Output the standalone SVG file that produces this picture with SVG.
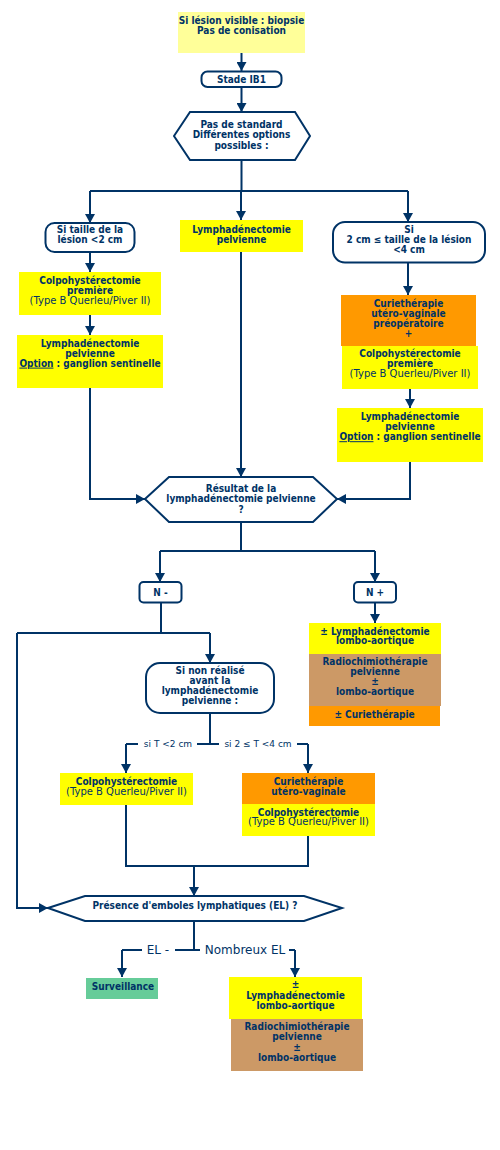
<svg xmlns="http://www.w3.org/2000/svg" width="500" height="1150" viewBox="0 0 500 1150">
<defs>
<style>
.t{font-family:"DejaVu Sans Condensed","DejaVu Sans",sans-serif;font-stretch:condensed;font-size:10px;font-weight:bold;fill:#003366;text-anchor:middle}
.n{font-family:"DejaVu Sans",sans-serif;font-size:10px;fill:#003366;text-anchor:middle}
.s{font-family:"DejaVu Sans",sans-serif;font-size:9px;fill:#003366;text-anchor:middle}
.l{font-family:"DejaVu Sans",sans-serif;font-size:12px;fill:#003366;text-anchor:middle}
.ln{stroke:#003366;stroke-width:2;fill:none}
.sh{fill:#fff;stroke:#003366;stroke-width:2}
.y{fill:#ffff00}
.py{fill:#ffff99}
.o{fill:#ff9900}
.br{fill:#cc9966}
.g{fill:#66cc99}
.u{text-decoration:underline}
</style>
<marker id="a" viewBox="0 0 10 10" markerWidth="10" markerHeight="10" markerUnits="userSpaceOnUse" refX="9" refY="5" orient="auto">
<path d="M0,0 L9,5 L0,10 z" fill="#003366"/>
</marker>
</defs>
<rect width="500" height="1150" fill="#fff"/>

<g id="connectors">
<path class="ln" d="M241.5,53 V71" marker-end="url(#a)"/>
<path class="ln" d="M241.5,87 V112" marker-end="url(#a)"/>
<path class="ln" d="M241.5,160 V191 M90,191 H408"/>
<path class="ln" d="M90,191 V223" marker-end="url(#a)"/>
<path class="ln" d="M241,191 V220" marker-end="url(#a)"/>
<path class="ln" d="M408,191 V222" marker-end="url(#a)"/>
<path class="ln" d="M90,252 V272" marker-end="url(#a)"/>
<path class="ln" d="M90,315 V335" marker-end="url(#a)"/>
<path class="ln" d="M90,388 V499 H145" marker-end="url(#a)"/>
<path class="ln" d="M241,252 V477" marker-end="url(#a)"/>
<path class="ln" d="M408,263 V295" marker-end="url(#a)"/>
<path class="ln" d="M410,389 V408" marker-end="url(#a)"/>
<path class="ln" d="M410,462 V499 H337" marker-end="url(#a)"/>
<path class="ln" d="M241,522 V551 M160,551 H375"/>
<path class="ln" d="M160,551 V582" marker-end="url(#a)"/>
<path class="ln" d="M375,551 V582" marker-end="url(#a)"/>
<path class="ln" d="M161,603 V633 M17,633 H210"/>
<path class="ln" d="M210,633 V663" marker-end="url(#a)"/>
<path class="ln" d="M17,633 V908 H48" marker-end="url(#a)"/>
<path class="ln" d="M375,603 V623" marker-end="url(#a)"/>
<path class="ln" d="M210,713 V744 M138,744 H126 M197,744 H219 M297,744 H308"/>
<path class="ln" d="M126,744 V773" marker-end="url(#a)"/>
<path class="ln" d="M308,744 V773" marker-end="url(#a)"/>
<path class="ln" d="M126,805 V866 H308 V836"/>
<path class="ln" d="M194,866 V896" marker-end="url(#a)"/>
<path class="ln" d="M194,921 V950 M142,950 H122 M175,950 H200 M289,950 H295"/>
<path class="ln" d="M122,950 V977" marker-end="url(#a)"/>
<path class="ln" d="M295,950 V977" marker-end="url(#a)"/>
<text class="s" x="168" y="747">si T &lt;2 cm</text>
<text class="s" x="258" y="747">si 2 ≤ T &lt;4 cm</text>
<text class="l" x="158" y="954">EL -</text>
<text class="l" x="245" y="954">Nombreux EL</text>
</g>

<g id="n1">
<rect class="py" x="178" y="12" width="127" height="41"/>
<text class="t" x="241.5" y="23.6">Si lésion visible : biopsie</text>
<text class="t" x="241.5" y="34">Pas de conisation</text>
</g>

<g id="n2">
<rect class="sh" x="201.5" y="71.5" width="80" height="15.5" rx="6"/>
<text class="t" x="241.5" y="82.6">Stade IB1</text>
</g>

<g id="n3">
<polygon class="sh" points="174,136 190,112 295,112 310,136 295,160 190,160"/>
<text class="t" x="241.5" y="127.6">Pas de standard</text>
<text class="t" x="241.5" y="138">Différentes options</text>
<text class="t" x="241.5" y="148.5">possibles :</text>
</g>

<g id="n4">
<rect class="sh" x="45.5" y="223" width="89" height="29" rx="9"/>
<text class="t" x="90" y="233">Si taille de la</text>
<text class="t" x="90" y="243">lésion &lt;2 cm</text>
</g>

<g id="n5">
<rect class="y" x="180" y="220" width="123" height="32"/>
<text class="t" x="241.5" y="233">Lymphadénectomie</text>
<text class="t" x="241.5" y="243">pelvienne</text>
</g>

<g id="n6">
<rect class="sh" x="333" y="222" width="152" height="40.5" rx="12"/>
<text class="t" x="409" y="232.6">Si</text>
<text class="t" x="409" y="242.6">2 cm ≤ taille de la lésion</text>
<text class="t" x="409" y="252.6">&lt;4 cm</text>
</g>

<g id="n7">
<rect class="y" x="19" y="272" width="142" height="43"/>
<text class="t" x="90" y="283.6">Colpohystérectomie</text>
<text class="t" x="90" y="293.6">première</text>
<text class="n" x="90" y="303.6">(Type B Querleu/Piver II)</text>
</g>

<g id="n8">
<rect class="y" x="17" y="335" width="146" height="53"/>
<text class="t" x="90" y="346.6">Lymphadénectomie</text>
<text class="t" x="90" y="356.6">pelvienne</text>
<text class="t" x="90" y="366.6"><tspan class="u">Option</tspan> : ganglion sentinelle</text>
</g>

<g id="n9">
<rect class="o" x="341" y="295" width="135" height="51"/>
<text class="t" x="408.5" y="306.6">Curiethérapie</text>
<text class="t" x="408.5" y="316.6">utéro-vaginale</text>
<text class="t" x="408.5" y="326.6">préopératoire</text>
<text class="t" x="408.5" y="336.6">+</text>
</g>

<g id="n10">
<rect class="y" x="342" y="346" width="136" height="43"/>
<text class="t" x="410" y="356.6">Colpohystérectomie</text>
<text class="t" x="410" y="366.6">première</text>
<text class="n" x="410" y="376.6">(Type B Querleu/Piver II)</text>
</g>

<g id="n11">
<rect class="y" x="337" y="408" width="146" height="54"/>
<text class="t" x="410" y="419.6">Lymphadénectomie</text>
<text class="t" x="410" y="429.6">pelvienne</text>
<text class="t" x="410" y="440.2"><tspan class="u">Option</tspan> : ganglion sentinelle</text>
</g>

<g id="n12">
<polygon class="sh" points="145,499 169,477 313,477 337,499 313,522 169,522"/>
<text class="t" x="241" y="491.6">Résultat de la</text>
<text class="t" x="241" y="502.4">lymphadénectomie pelvienne</text>
<text class="t" x="241" y="512.6">?</text>
</g>

<g id="n13">
<rect class="sh" x="139.5" y="582" width="42" height="20.5" rx="4"/>
<text class="t" x="160.5" y="595.6">N -</text>
</g>

<g id="n14">
<rect class="sh" x="354" y="582" width="42" height="20.5" rx="4"/>
<text class="t" x="375" y="595.6">N +</text>
</g>

<g id="n15">
<rect class="sh" x="146" y="663" width="128" height="50" rx="14"/>
<text class="t" x="210" y="673.6">Si non réalisé</text>
<text class="t" x="210" y="683.6">avant la</text>
<text class="t" x="210" y="693.6">lymphadénectomie</text>
<text class="t" x="210" y="703.6">pelvienne :</text>
</g>

<g id="n16">
<rect class="y" x="309" y="623" width="132" height="31"/>
<text class="t" x="375" y="634.6">± Lymphadénectomie</text>
<text class="t" x="375" y="644.3">lombo-aortique</text>
</g>

<g id="n17">
<rect class="br" x="309" y="654" width="132" height="52"/>
<text class="t" x="375" y="665.3">Radiochimiothérapie</text>
<text class="t" x="375" y="675.3">pelvienne</text>
<text class="t" x="375" y="685.3">±</text>
<text class="t" x="375" y="695.3">lombo-aortique</text>
</g>

<g id="n18">
<rect class="o" x="309" y="706" width="131" height="20"/>
<text class="t" x="374.5" y="717.6">± Curiethérapie</text>
</g>

<g id="n19">
<rect class="y" x="60" y="773" width="133" height="32"/>
<text class="t" x="126.5" y="784.6">Colpohystérectomie</text>
<text class="n" x="126.5" y="795.3">(Type B Querleu/Piver II)</text>
</g>

<g id="n20">
<rect class="o" x="242" y="773" width="133" height="31"/>
<text class="t" x="308.5" y="784.6">Curiethérapie</text>
<text class="t" x="308.5" y="794.6">utéro-vaginale</text>
</g>

<g id="n21">
<rect class="y" x="242" y="804" width="133" height="32"/>
<text class="t" x="308.5" y="815.6">Colpohystérectomie</text>
<text class="n" x="308.5" y="825.3">(Type B Querleu/Piver II)</text>
</g>

<g id="n22">
<polygon class="sh" points="48,908 85,896 304,896 342,908 304,921 85,921"/>
<text class="t" x="195" y="908.6">Présence d'emboles lymphatiques (EL) ?</text>
</g>

<g id="n23">
<rect class="g" x="86" y="978" width="72" height="21"/>
<text class="t" x="123" y="989.6">Surveillance</text>
</g>

<g id="n24">
<rect class="y" x="229" y="977" width="133" height="42"/>
<text class="t" x="295.5" y="987.6">±</text>
<text class="t" x="295.5" y="998.6">Lymphadénectomie</text>
<text class="t" x="295.5" y="1008.6">lombo-aortique</text>
</g>

<g id="n25">
<rect class="br" x="231" y="1019" width="132" height="52"/>
<text class="t" x="297" y="1030.3">Radiochimiothérapie</text>
<text class="t" x="297" y="1040.3">pelvienne</text>
<text class="t" x="297" y="1050.9">±</text>
<text class="t" x="297" y="1060.9">lombo-aortique</text>
</g>
</svg>
